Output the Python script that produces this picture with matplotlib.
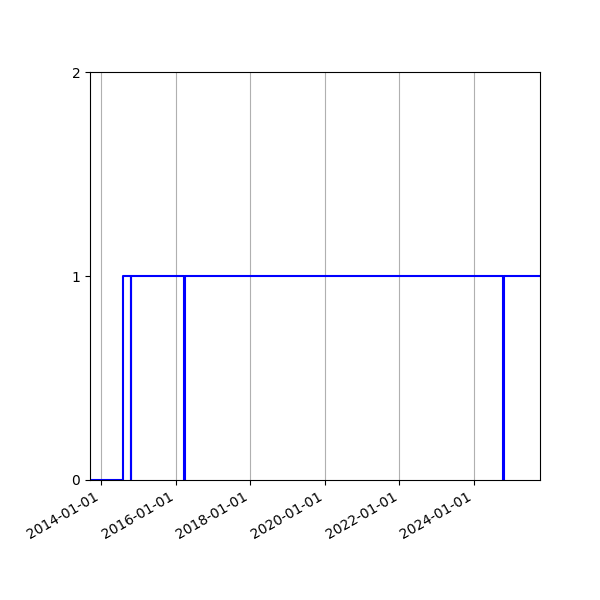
import matplotlib
matplotlib.use("Agg")
import matplotlib.pyplot as plt
import matplotlib.dates as mdates
import pandas as pd

# status changes (step-post): value holds from each date until the next
dates = ["2013-09-12", "2014-08-05", "2014-10-16", "2014-10-21",
         "2016-03-19", "2016-03-29", "2024-10-14", "2024-10-24", "2025-10-10"]
status = [0, 1, 0, 1, 0, 1, 0, 1, 1]

x = pd.to_datetime(dates)

fig = plt.figure(figsize=(6, 6), dpi=100)
ax = fig.add_subplot(111)

ax.plot(x, status, drawstyle="steps-post", color="blue", lw=1.5)
ax.set_xlim(x[0], x[-1])
ax.set_ylim(0, 2)
ax.set_yticks([0, 1, 2])
ax.xaxis.set_major_locator(mdates.YearLocator(2))
ax.xaxis.set_major_formatter(mdates.DateFormatter("%Y-%m-%d"))
ax.grid(axis="x")
fig.autofmt_xdate()
fig.subplots_adjust(left=0.15, right=0.9, top=0.88, bottom=0.2)

fig.savefig("out.png", dpi=100)
